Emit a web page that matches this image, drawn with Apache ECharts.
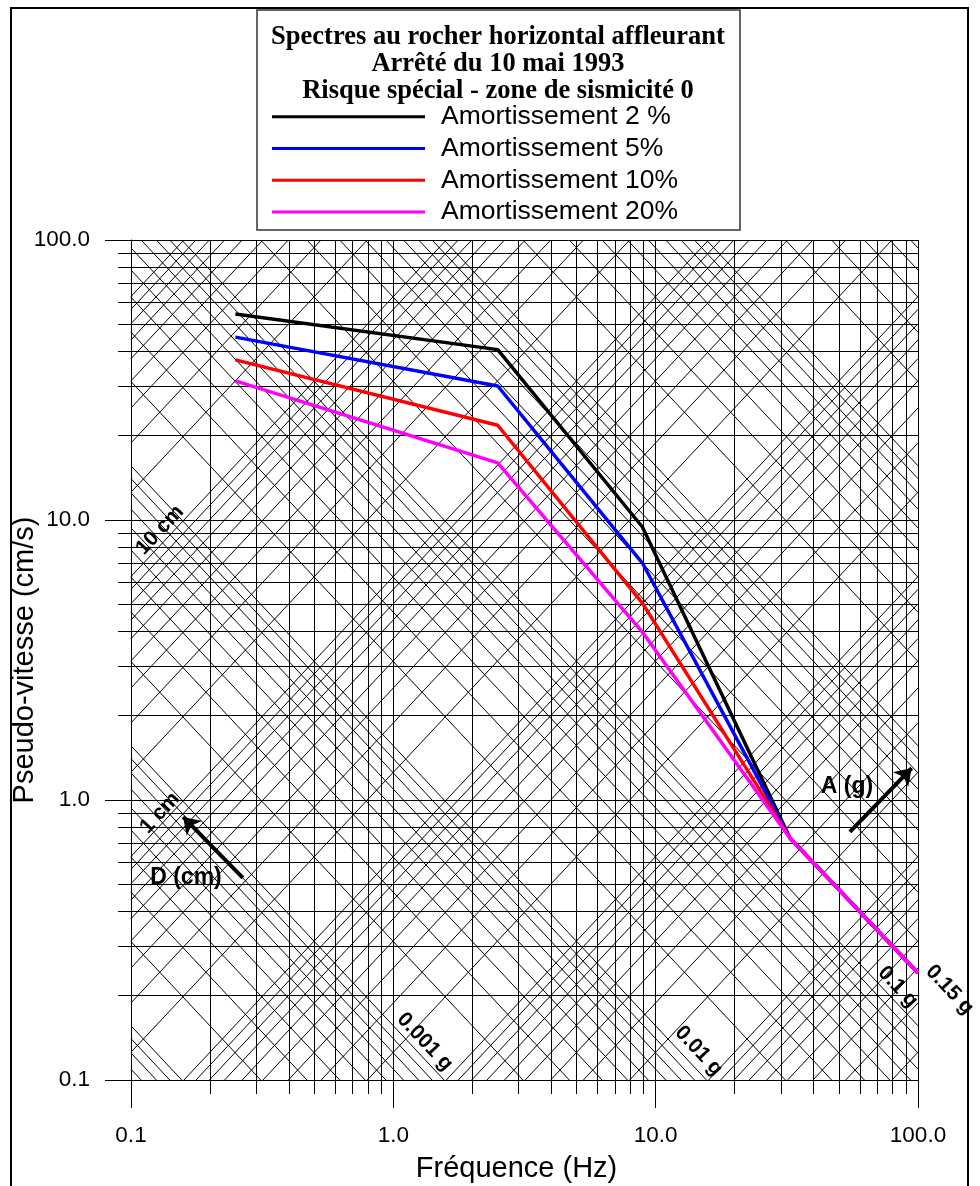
<!DOCTYPE html>
<html><head><meta charset="utf-8">
<script src="https://cdn.jsdelivr.net/npm/echarts@6/dist/echarts.min.js"></script>
<style>html,body{margin:0;padding:0;background:#fff}#c{width:980px;height:1186px}</style>
</head><body><div id="c"></div>
<script>
// ---------- data ----------
const frequencies = [0.25, 2.5, 8.9, 32.5, 100];
const seriesNames = ['Amortissement 2 %', 'Amortissement 5%', 'Amortissement 10%', 'Amortissement 20%'];
const amort2 = [54.4, 40.6, 9.44, 0.732, 0.241];
const amort5 = [45.0, 30.1, 7.02, 0.732, 0.241];
const amort10 = [37.3, 21.8, 5.05, 0.732, 0.241];
const amort20 = [31.4, 16.0, 3.98, 0.732, 0.241];
const seriesColors = ['#000000', '#0000ff', '#ff0000', '#ff00ff'];
const titleLines = ['Spectres au rocher horizontal affleurant', 'Arrêté du 10 mai 1993', 'Risque spécial - zone de sismicité 0'];
const xAxisName = 'Fréquence (Hz)';
const yAxisName = 'Pseudo-vitesse (cm/s)';
const tickValues = [0.1, 1, 10, 100];
const tickLabels = ['0.1', '1.0', '10.0', '100.0'];
const axisMin = 0.1, axisMax = 100;
const gridMultipliers = [1, 2, 3, 4, 5, 6, 7, 8, 9];
const displacementDecadesCm = [1e-4, 1e-3, 1e-2, 1e-1, 1, 10, 100];
const accelerationDecadesG = [1e-5, 1e-4, 1e-3, 1e-2, 1e-1, 1, 10];
const gravityCmS2 = 981;
const annotationTexts = ['10 cm', '1 cm', 'D (cm)', 'A (g)', '0.001 g', '0.01 g', '0.1 g', '0.15 g'];
const annotationFreq = [0.129, 0.129, 0.162, 53.6, 1.319, 14.6, 83.8, 132];
const annotationVel = [9.2, 0.899, 0.527, 1.113, 0.137, 0.127, 0.215, 0.21];
const annotationAngle = [47, 47, 0, 0, -47, -47, -47, -47];
const arrowDisplacement = [[0.267, 0.527], [0.158, 0.87]];
const arrowAcceleration = [[55, 0.769], [94.6, 1.30]];

// ---------- tripartite diagonals ----------
function clipDiag(k, slope) {
  let f1, f2;
  if (slope === 1) { f1 = Math.max(axisMin, axisMin / k); f2 = Math.min(axisMax, axisMax / k); }
  else { f1 = Math.max(axisMin, k / axisMax); f2 = Math.min(axisMax, k / axisMin); }
  if (!(f2 > f1 * 1.000001)) return null;
  return { coords: [[f1, k * Math.pow(f1, slope)], [f2, k * Math.pow(f2, slope)]] };
}
const diagData = [];
displacementDecadesCm.forEach(d => gridMultipliers.forEach(m => {
  const r = clipDiag(2 * Math.PI * d * m, 1); if (r) diagData.push(r);
}));
accelerationDecadesG.forEach(a => gridMultipliers.forEach(m => {
  const r = clipDiag(a * m * gravityCmS2 / (2 * Math.PI), -1); if (r) diagData.push(r);
}));

const curves = [amort2, amort5, amort10, amort20];
const sans = 'Liberation Sans, Arial, sans-serif';

function fmt(v) {
  const i = tickValues.findIndex(t => Math.abs(Math.log10(t) - Math.log10(v)) < 1e-6);
  return i >= 0 ? tickLabels[i] : '';
}
function axisCommon(tickLen, minorLen, margin) {
  return {
    type: 'log', logBase: 10, min: axisMin, max: axisMax,
    nameMoveOverlap: false,
    axisLine: { show: true, lineStyle: { color: '#000', width: 1 } },
    axisTick: { show: true, length: tickLen, lineStyle: { color: '#000', width: 1 } },
    minorTick: { show: true, splitNumber: 9, length: minorLen, lineStyle: { color: '#000', width: 1 } },
    splitLine: { show: true, lineStyle: { color: '#000', width: 1 } },
    minorSplitLine: { show: true, lineStyle: { color: '#000', width: 1 } },
    axisLabel: { formatter: fmt, fontSize: 22.5, color: '#000', margin: margin, fontFamily: sans }
  };
}

const chart = echarts.init(document.getElementById('c'), null, { renderer: 'canvas' });
const option = {
  animation: false,
  backgroundColor: '#fff',
  grid: { left: 131, right: 62, top: 240, bottom: 106, containLabel: false, outerBoundsMode: 'none' },
  xAxis: Object.assign(axisCommon(28, 14, 44), { name: xAxisName, nameLocation: 'middle', nameGap: 74,
    nameTextStyle: { fontSize: 29, color: '#000', fontFamily: sans, padding: [0, 16, 0, 0] } }),
  yAxis: Object.assign(axisCommon(26, 13, 41), { name: yAxisName, nameLocation: 'middle', nameGap: 92,
    nameTextStyle: { fontSize: 29, color: '#000', fontFamily: sans } }),
  legend: {
    show: true, orient: 'vertical', left: 272, top: 101, padding: 0, itemGap: 0, z: 60,
    icon: 'rect', itemWidth: 153, itemHeight: 3,
    data: seriesNames,
    textStyle: { fontSize: 26.5, color: '#000', fontFamily: sans, lineHeight: 31.7, padding: [0, 0, 0, 11] }
  },
  graphic: [
    { type: 'rect', shape: { x: 11, y: 8, width: 957, height: 1200 }, style: { fill: 'none', stroke: '#000', lineWidth: 2 }, z: 100 },
    { type: 'rect', shape: { x: 257, y: 10, width: 483, height: 220 }, style: { fill: 'none', stroke: '#333', lineWidth: 1.5 }, z: 50 },
    { type: 'text', x: 498, y: 23.5, z: 51, style: { text: titleLines.join('\n'), align: 'center', verticalAlign: 'top', fill: '#000',
      fontFamily: 'Liberation Serif', fontWeight: 'bold', fontSize: 26.5, lineHeight: 27 } }
  ],
  series: [
    {
      type: 'lines', coordinateSystem: 'cartesian2d', silent: true, polyline: false, z: 1,
      lineStyle: { color: '#000', width: 1, opacity: 1, curveness: 0 },
      data: diagData
    },
    ...curves.map((vals, i) => ({
      type: 'line', name: seriesNames[i], symbol: 'none', z: 5,
      lineStyle: { color: seriesColors[i], width: 3.5 }, itemStyle: { color: seriesColors[i] },
      data: frequencies.map((f, j) => [f, vals[j]])
    })),
    {
      type: 'lines', coordinateSystem: 'cartesian2d', silent: true, z: 6,
      symbol: ['none', 'arrow'], symbolSize: 16,
      lineStyle: { color: '#000', width: 4, opacity: 1, curveness: 0 },
      data: [{ coords: arrowDisplacement }, { coords: arrowAcceleration }]
    },
    {
      type: 'scatter', silent: true, z: 7, clip: false, symbolSize: 0, itemStyle: { color: '#000' },
      data: annotationTexts.map((t, i) => ({
        value: [annotationFreq[i], annotationVel[i]],
        label: { show: true, position: 'inside', formatter: t, rotate: annotationAngle[i],
          fontSize: (annotationAngle[i] === 0 ? 23 : 21), fontWeight: 'bold', color: '#000',
          textBorderWidth: 0, opacity: 1, fontFamily: sans }
      }))
    }
  ]
};
chart.setOption(option);
</script></body></html>
